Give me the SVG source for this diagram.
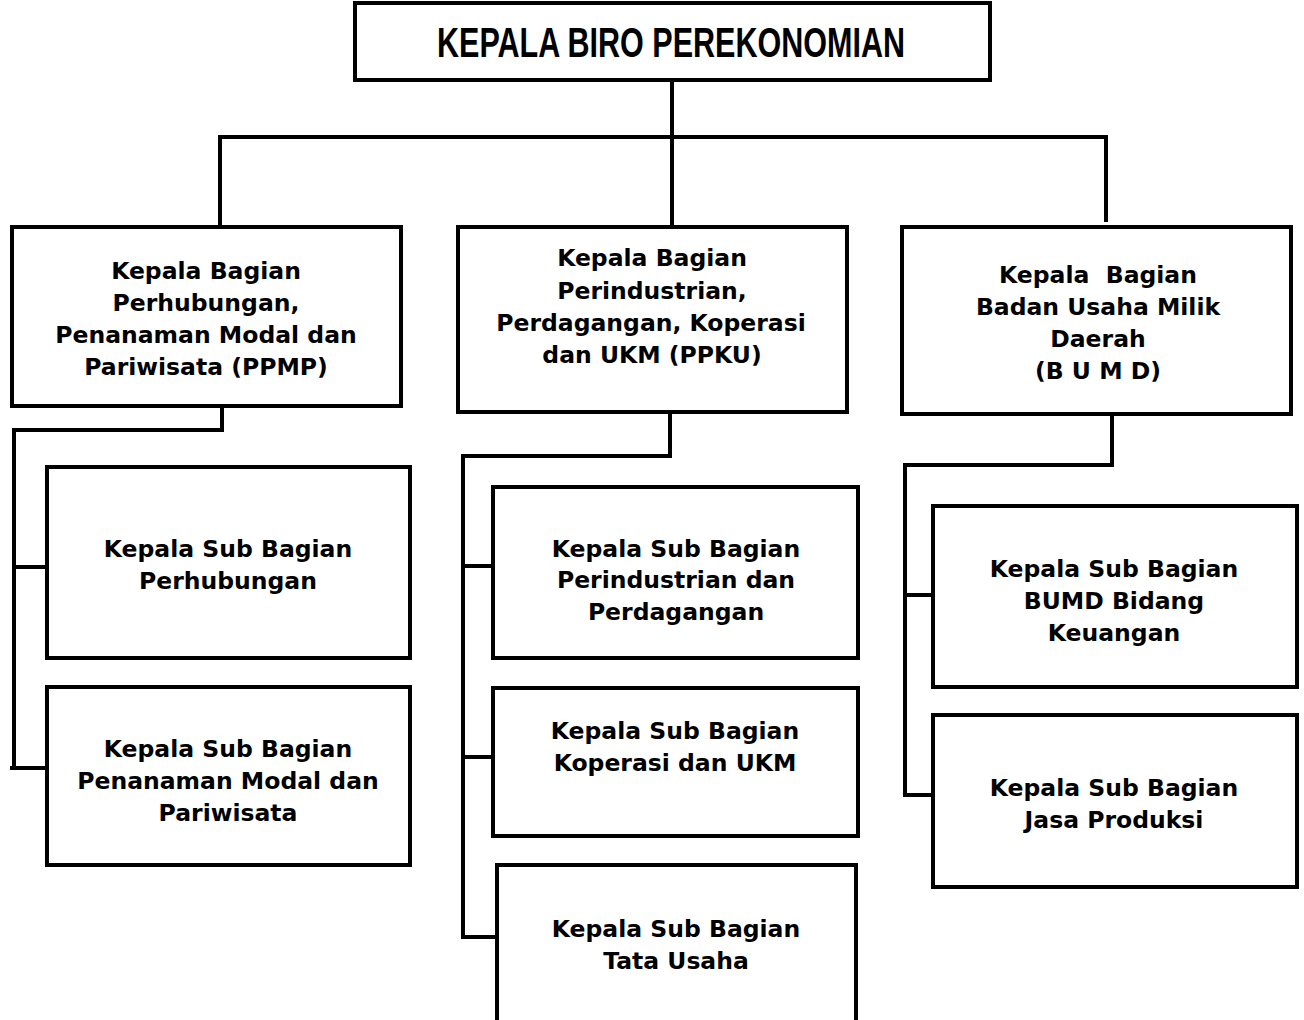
<svg xmlns="http://www.w3.org/2000/svg" width="1304" height="1020" viewBox="0 0 1304 1020">
<style>
.box{fill:#fff;stroke:#000;stroke-width:4}
.ln{fill:none;stroke:#000;stroke-width:4;stroke-linecap:square}
.t{font-family:"DejaVu Sans",Verdana,sans-serif;font-weight:bold;font-size:23.5px;text-anchor:middle;fill:#000}
.title{font-family:"Liberation Sans",Arial,sans-serif;font-weight:bold;font-size:42px;text-anchor:middle;fill:#000}
</style>
<rect width="1304" height="1020" fill="#fff"/>
<g id="connectors">
<path class="ln" d="M672 80 V137 M220 137 H1106 M220 137 V227 M672 137 V227 M1106 137 V220"/>
<path class="ln" d="M222 406 V430 H14 V768 M14 567 H47 M12 768 H47"/>
<path class="ln" d="M670 413 V456 H463 V937 M463 566 H493 M463 757 H493 M463 937 H497"/>
<path class="ln" d="M1112 415 V465 H905 V795 M905 595 H933 M905 795 H933"/>
</g>
<g id="n-kepala-biro">
<rect class="box" x="355" y="3" width="635" height="77"/>
<text class="title" x="671" y="57" textLength="468" lengthAdjust="spacingAndGlyphs">KEPALA BIRO PEREKONOMIAN</text>
</g>
<g id="n-ppmp">
<rect class="box" x="12" y="227" width="389" height="179"/>
<text class="t" x="206" y="279">Kepala Bagian</text>
<text class="t" x="206" y="311">Perhubungan,</text>
<text class="t" x="206" y="343">Penanaman Modal dan</text>
<text class="t" x="206" y="375">Pariwisata (PPMP)</text>
</g>
<g id="n-ppku">
<rect class="box" x="458" y="227" width="389" height="185"/>
<text class="t" x="652" y="266">Kepala Bagian</text>
<text class="t" x="652" y="299">Perindustrian,</text>
<text class="t" x="651" y="331">Perdagangan, Koperasi</text>
<text class="t" x="652" y="363">dan UKM (PPKU)</text>
</g>
<g id="n-bumd">
<rect class="box" x="902" y="227" width="389" height="187"/>
<text class="t" x="1098" y="283" xml:space="preserve">Kepala  Bagian</text>
<text class="t" x="1098" y="315">Badan Usaha Milik</text>
<text class="t" x="1098" y="347">Daerah</text>
<text class="t" x="1098" y="379">(B U M D)</text>
</g>
<g id="n-sub-perhubungan">
<rect class="box" x="47" y="467" width="363" height="191"/>
<text class="t" x="228" y="557">Kepala Sub Bagian</text>
<text class="t" x="228" y="589">Perhubungan</text>
</g>
<g id="n-sub-penanaman">
<rect class="box" x="47" y="687" width="363" height="178"/>
<text class="t" x="228" y="757">Kepala Sub Bagian</text>
<text class="t" x="228" y="789">Penanaman Modal dan</text>
<text class="t" x="228" y="821">Pariwisata</text>
</g>
<g id="n-sub-perindustrian">
<rect class="box" x="493" y="487" width="365" height="171"/>
<text class="t" x="676" y="557">Kepala Sub Bagian</text>
<text class="t" x="676" y="588">Perindustrian dan</text>
<text class="t" x="676" y="620">Perdagangan</text>
</g>
<g id="n-sub-koperasi">
<rect class="box" x="493" y="688" width="365" height="148"/>
<text class="t" x="675" y="739">Kepala Sub Bagian</text>
<text class="t" x="675" y="771">Koperasi dan UKM</text>
</g>
<g id="n-sub-tatausaha">
<rect class="box" x="497" y="865" width="359" height="170"/>
<text class="t" x="676" y="937">Kepala Sub Bagian</text>
<text class="t" x="676" y="969">Tata Usaha</text>
</g>
<g id="n-sub-keuangan">
<rect class="box" x="933" y="506" width="364" height="181"/>
<text class="t" x="1114" y="577">Kepala Sub Bagian</text>
<text class="t" x="1114" y="609">BUMD Bidang</text>
<text class="t" x="1114" y="641">Keuangan</text>
</g>
<g id="n-sub-jasa">
<rect class="box" x="933" y="715" width="364" height="172"/>
<text class="t" x="1114" y="796">Kepala Sub Bagian</text>
<text class="t" x="1114" y="828">Jasa Produksi</text>
</g>
</svg>
